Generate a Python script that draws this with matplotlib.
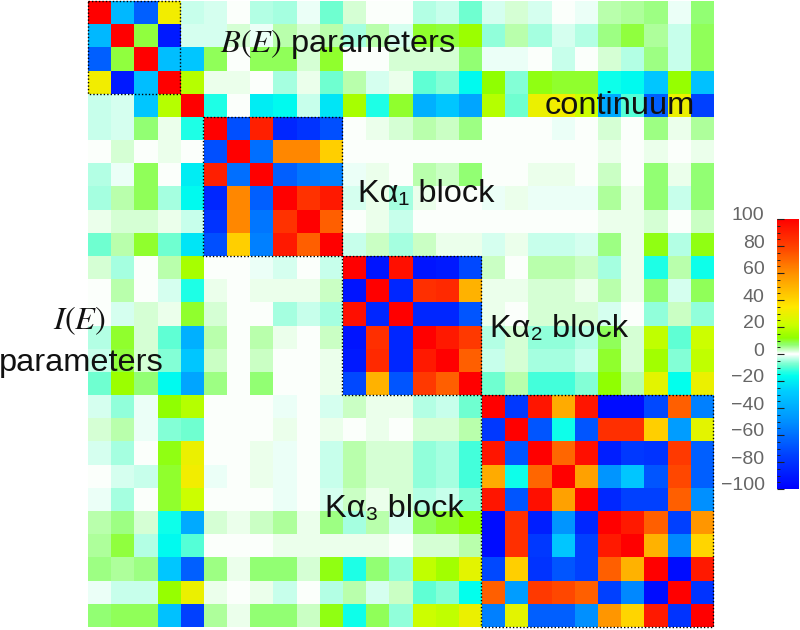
import matplotlib
matplotlib.use('Agg')
import matplotlib.pyplot as plt
import numpy as np
from matplotlib.colors import LinearSegmentedColormap, Normalize
from matplotlib.patches import Rectangle
from matplotlib.transforms import ScaledTranslation

plt.rcParams['font.family'] = ['Liberation Sans', 'DejaVu Sans']
plt.rcParams['mathtext.fontset'] = 'stix'

# correlation matrix in percent, read cell by cell
corr = np.array([
    [100,-35,-65,32,-3,-2,0,-4,-5,-1,-8,2,0,0,-4,-3,-8,-2,2,-2,0,-1,4,5,6,-1,7],
    [-35,100,9,-90,-2,-2,2,-1,4,2,4,-5,4,-2,10,9,14,-6,4,-5,-2,-4,6,9,5,-3,8],
    [-65,9,100,-33,-30,8,0,8,8,2,10,0,0,2,2,2,7,-1,-1,0,-3,0,2,-4,6,-3,8],
    [32,-90,-33,100,18,1,1,0,-5,1,-8,4,-2,1,-9,-7,-17,12,-7,11,10,10,-15,-17,-30,13,-32],
    [-3,-2,-30,18,100,-14,0,-20,-17,-3,-22,16,-14,10,-38,-30,-42,18,-8,30,32,22,-40,-10,-65,30,-75],
    [-3,-2,7,1,-14,100,-70,90,-85,-80,-70,0,1,2,4,3,6,0,0,0,-1,0,2,0,6,1,5],
    [0,2,0,1,0,-70,100,-60,62,62,42,0,0,0,0,0,0,0,0,0,0,0,1,0,1,0,1],
    [-4,-1,8,0,-20,90,-60,100,-65,-58,-55,-1,1,0,4,3,7,0,0,1,1,0,3,0,7,1,7],
    [-5,4,8,-5,-17,-85,62,-65,100,84,92,-2,1,-5,1,0,0,-1,1,-1,-1,-1,5,1,7,-3,7],
    [1,2,2,1,-3,-80,62,-58,84,100,72,0,1,-3,0,0,0,0,0,0,0,0,1,1,2,0,3],
    [-8,4,10,-8,-22,-70,42,-55,92,72,100,-3,3,-5,3,1,1,-2,1,-3,-3,-2,6,1,11,-4,11],
    [2,-5,0,4,16,0,0,-1,-2,0,-3,100,-92,95,-92,-90,-72,3,0,4,4,3,-5,1,-14,4,-15],
    [0,4,0,-2,-14,1,0,1,1,1,3,-92,100,-85,85,87,50,1,1,2,2,1,4,1,7,-2,8],
    [0,-2,2,1,10,2,0,0,-5,-3,-5,95,-85,100,-85,-85,-68,1,0,2,2,2,-2,0,-6,3,-6],
    [-4,10,2,-9,-38,4,0,4,1,0,3,-92,85,-85,100,92,82,-4,2,-6,-6,-4,8,2,20,-9,22],
    [-3,9,2,-7,-30,3,0,3,0,0,1,-90,87,-85,92,100,72,-3,2,-5,-5,-3,10,2,15,-7,20],
    [-8,14,7,-17,-42,6,0,7,0,0,1,-72,50,-68,82,72,100,-8,4,-11,-11,-7,12,4,28,-16,30],
    [-2,-6,-1,12,18,0,0,0,-1,0,-2,3,1,1,-4,-3,-8,100,-78,93,52,93,-95,-95,-72,72,-55],
    [2,4,-1,-7,-8,0,0,0,1,0,1,0,1,0,2,2,4,-78,100,-68,-15,-68,85,85,42,-45,28],
    [-2,-5,0,11,30,0,0,1,-1,0,-3,4,2,2,-6,-5,-11,93,-68,100,70,95,-88,-78,-80,82,-65],
    [0,-2,-3,10,32,-1,0,1,-1,0,-3,4,2,2,-6,-5,-11,52,-15,70,100,55,-48,-30,-68,78,-65],
    [-1,-5,0,10,22,0,0,0,-1,0,-2,3,1,2,-4,-3,-7,93,-68,95,55,100,-85,-75,-75,72,-50],
    [4,6,2,-15,-40,2,1,3,5,1,6,-5,4,-2,8,10,12,-95,85,-88,-48,-85,100,92,72,-75,58],
    [5,9,-4,-17,-10,0,0,0,1,1,1,1,1,0,2,2,4,-95,85,-78,-30,-75,92,100,50,-52,40],
    [6,5,6,-30,-65,6,1,7,7,2,11,-14,7,-6,20,15,28,-72,42,-80,-68,-75,72,50,100,-95,92],
    [-1,-3,-3,13,30,1,0,1,-3,0,-4,4,-2,3,-9,-7,-16,72,-45,82,78,72,-75,-52,-95,100,-80],
    [7,8,8,-32,-75,5,1,7,7,3,11,-15,8,-6,22,20,30,-55,28,-65,-65,-50,58,40,92,-80,100],
])

# first and last+1 parameter index of the outlined blocks
block_start = [0, 5, 11, 17]
block_stop = [4, 11, 17, 27]

# colour scale: white at zero, green above, aqua below
scale_values = [-100, -75, -50, -28, -16, -8, -2, 0, 2, 7, 12, 22, 35, 60, 80, 100]
scale_colors = ['#0000ff', '#0040ff', '#0090ff', '#00ccff', '#00ffee', '#70ffd0',
                '#d8fff0', '#ffffff', '#d8ffd8', '#90ff70', '#90ff00', '#ccff00',
                '#ffe800', '#ff9000', '#ff4000', '#ff0000']
cmap = LinearSegmentedColormap.from_list(
    'corr', [((v + 100) / 200, c) for v, c in zip(scale_values, scale_colors)], N=512)
norm = Normalize(-100, 100)

W, H = 800, 630
fig = plt.figure(figsize=(8, 6.3), dpi=100)

ax = fig.add_axes([87.5 / W, 1 - 627 / H, 625.5 / W, 626 / H])
im = ax.imshow(corr, cmap=cmap, norm=norm, interpolation='nearest', aspect='auto',
               extent=[0, 27, 27, 0])
ax.axis('off')

for a, b in zip(block_start, block_stop):
    ax.add_patch(Rectangle((a, a), b - a, b - a, fill=False, ec='black', lw=1,
                           ls=(0, (1, 1.5)), zorder=3, clip_on=False))

# colorbar
cax = fig.add_axes([777 / W, 1 - 489 / H, 22 / W, 270 / H])
cb = fig.colorbar(im, cax=cax, ticks=np.arange(-100, 101, 20))
cb.outline.set_visible(False)
cax.yaxis.set_ticks_position('left')
cax.set_yticks(np.arange(-100, 101, 5), minor=True)
cax.tick_params(which='major', length=5, width=0.8, color='#222222', direction='in',
                labelcolor='#666666', labelsize=14, pad=9)
cax.tick_params(which='minor', length=2.5, width=0.7, color='#222222', direction='in')
# the labels sit a little above their ticks
up = ScaledTranslation(0, 5 / 100, fig.dpi_scale_trans)
for t in cax.get_yticklabels():
    t.set_transform(t.get_transform() + up)


def label(x, y, s, **kw):
    # x, y in picture pixels
    fig.text(x / W, 1 - y / H, s, fontsize=23.4, color='#111111', va='center', **kw)


label(220, 44, '$B(E)$ parameters')
label(545, 106, 'continuum')
label(358, 194, 'Kα₁ block')
label(490, 329, 'Kα₂ block')
label(325, 509, 'Kα₃ block')
label(80, 321, '$I(E)$', ha='center')
label(-1, 363, 'parameters')

fig.savefig('out.png', dpi=100)
